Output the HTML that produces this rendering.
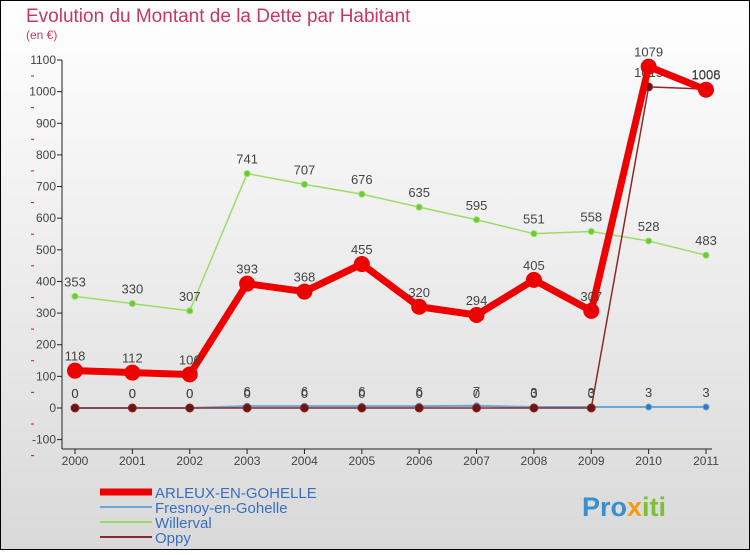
<!DOCTYPE html>
<html><head><meta charset="utf-8"><style>
body{margin:0;width:750px;height:550px;overflow:hidden;font-family:"Liberation Sans",sans-serif}
</style></head><body>
<svg width="750" height="550" xmlns="http://www.w3.org/2000/svg">
<defs><linearGradient id="bg" x1="0" y1="0" x2="0" y2="1"><stop offset="0" stop-color="#ffffff"/><stop offset="1" stop-color="#d9d9d9"/></linearGradient></defs>
<rect x="0" y="0" width="750" height="550" fill="url(#bg)" stroke="#000" stroke-width="2"/>
<text x="26" y="22" font-size="19" fill="#c8385e">Evolution du Montant de la Dette par Habitant</text>
<text x="26" y="39" font-size="12" fill="#c8385e">(en €)</text>
<g id="axes"></g>
<g id="series"></g>
<g id="legend"></g>
<text x="582" y="516" font-size="27" font-weight="bold" fill="#3a8fd0">Pro<tspan fill="#f39c12">x</tspan><tspan fill="#7cbf3a">iti</tspan></text>
</svg>
<script>
const years=[2000,2001,2002,2003,2004,2005,2006,2007,2008,2009,2010,2011];
const yTicks=[-100,0,100,200,300,400,500,600,700,800,900,1000,1100];
const arleux=[118,112,106,393,368,455,320,294,405,307,1079,1006];
const fresnoy=[0,0,0,6,6,6,6,7,3,3,3,3];
const willerval=[353,330,307,741,707,676,635,595,551,558,528,483];
const oppy=[0,0,0,0,0,0,0,0,0,0,1015,1008];
const NS="http://www.w3.org/2000/svg";
const xs=i=>75+i*(706-75)/11;
const ys=v=>408-v*348/1100;
function mk(p,t,a){const e=document.createElementNS(NS,t);for(const k in a)e.setAttribute(k,a[k]);p.appendChild(e);return e;}
const ax=document.getElementById('axes');
let l=mk(ax,'line',{x1:62,y1:ys(1100),x2:62,y2:449,stroke:'#222'});


l=mk(ax,'line',{x1:62,y1:449,x2:712,y2:449,stroke:'#222'});


yTicks.forEach(v=>{
 mk(ax,'line',{x1:57,y1:ys(v),x2:62,y2:ys(v),stroke:'#222'});
 const t=mk(ax,'text',{x:56,y:ys(v)+4,'font-size':12,'text-anchor':'end',fill:'#444'});t.textContent=v;
 
 
 mk(ax,'line',{x1:31,y1:ys(v)+16,x2:34,y2:ys(v)+16,stroke:'#e00'});
});
years.forEach((y,i)=>{
 mk(ax,'line',{x1:xs(i),y1:449,x2:xs(i),y2:454,stroke:'#222'});
 const t=mk(ax,'text',{x:xs(i),y:465,'font-size':12,'text-anchor':'middle',fill:'#444'});t.textContent=y;
 
 
});
const sg=document.getElementById('series');
function draw(name,vals,col,w,r,dot,labels){
 const g=mk(sg,'g',{});
 
 
 mk(g,'polyline',{points:vals.map((v,i)=>xs(i)+','+ys(v)).join(' '),fill:'none',stroke:col,'stroke-width':w,'stroke-linejoin':'round'});
 vals.forEach((v,i)=>{
  const c=mk(g,'circle',{cx:xs(i),cy:ys(v),r:r,fill:dot,stroke:col,'stroke-width':r>4?2:1});
  
  
  if(labels){const t=mk(g,'text',{x:xs(i),y:ys(v)-10,'font-size':13,'text-anchor':'middle',fill:'#444'});t.textContent=v;
  
  }
 });
}
draw('willerval',willerval,'#99dd66',1.5,3,'#66cc33',true);
draw('fresnoy',fresnoy,'#6aa7d8',2,3,'#3377bb',true);
draw('oppy',oppy,'#8b2a2a',1.5,4,'#6b1515',true);
draw('arleux',arleux,'#ee0000',7,7,'#ee0000',true);
const lg=document.getElementById('legend');
[['ARLEUX-EN-GOHELLE','#ee0000',7],['Fresnoy-en-Gohelle','#6aa7d8',2],['Willerval','#99dd66',2],['Oppy','#8b2a2a',2]].forEach((s,i)=>{
 const y=492+i*15;
 const g=mk(lg,'g',{});
 
 
 mk(g,'line',{x1:100,y1:y,x2:152,y2:y,stroke:s[1],'stroke-width':s[2]});
 const t=mk(g,'text',{x:155,y:y+6,'font-size':15,fill:'#3a6fc0'});t.textContent=s[0];
});
</script>
</body></html>
